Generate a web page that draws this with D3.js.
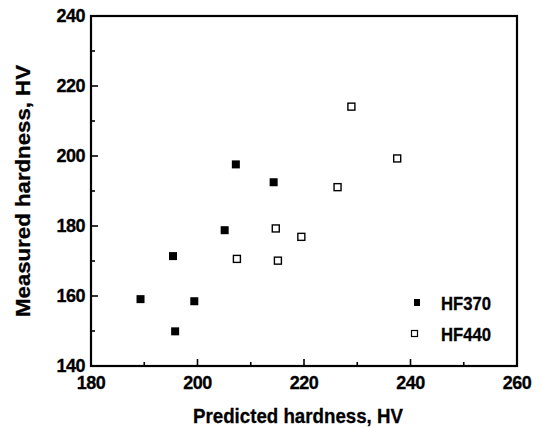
<!DOCTYPE html>
<html><head><meta charset="utf-8">
<script src="https://cdn.jsdelivr.net/npm/d3@7"></script>
<style>body{margin:0;background:#fff}svg{display:block}text{font-family:"Liberation Sans",Arial,sans-serif;font-weight:bold;fill:#000}</style>
</head><body><svg id="c" width="543" height="428"></svg>
<script>
const hf370Predicted = [207.2, 214.3, 205.1, 195.4, 199.4, 195.8, 189.3];
const hf370Measured  = [197.6, 192.5, 178.8, 171.4, 158.5, 149.9, 159.1];
const hf440Predicted = [228.9, 237.5, 226.3, 214.7, 219.5, 207.4, 215.1];
const hf440Measured  = [214.1, 199.3, 191.1, 179.3, 176.9, 170.6, 170.1];
const xTicks = [180, 200, 220, 240, 260];
const yTicks = [140, 160, 180, 200, 220, 240];
const seriesNames = ["HF370", "HF440"];

const svg = d3.select("#c");
const L = 91, R = 517, T = 16, B = 366;
const x = d3.scaleLinear().domain([180, 260]).range([L, R]);
const y = d3.scaleLinear().domain([140, 240]).range([B, T]);

const xMinor = d3.range(190, 260, 20);
const yMinor = d3.range(150, 240, 20);
const g = svg.append("g");
g.selectAll(".xmaj").data(xTicks.slice(1, -1)).enter().append("line")
  .attr("x1", d => x(d)).attr("x2", d => x(d)).attr("y1", B).attr("y2", B - 7)
  .attr("stroke", "#000").attr("stroke-width", 1.6);
g.selectAll(".xmin").data(xMinor).enter().append("line")
  .attr("x1", d => x(d)).attr("x2", d => x(d)).attr("y1", B).attr("y2", B - 4)
  .attr("stroke", "#000").attr("stroke-width", 1.6);
g.selectAll(".ymaj").data(yTicks.slice(1, -1)).enter().append("line")
  .attr("y1", d => y(d)).attr("y2", d => y(d)).attr("x1", L).attr("x2", L + 7)
  .attr("stroke", "#000").attr("stroke-width", 1.6);
g.selectAll(".ymin").data(yMinor).enter().append("line")
  .attr("y1", d => y(d)).attr("y2", d => y(d)).attr("x1", L).attr("x2", L + 4)
  .attr("stroke", "#000").attr("stroke-width", 1.6);

svg.append("rect").attr("x", L).attr("y", T).attr("width", R - L).attr("height", B - T)
  .attr("fill", "none").attr("stroke", "#000").attr("stroke-width", 2.2);

// tick labels
svg.selectAll(".xl").data(xTicks).enter().append("text")
  .attr("x", d => x(d)).attr("y", B + 23)
  .attr("text-anchor", "middle").attr("font-size", 18).attr("letter-spacing", -0.5)
  .attr("stroke", "#000").attr("stroke-width", 0.3)
  .text(d => d);
svg.selectAll(".yl").data(yTicks).enter().append("text")
  .attr("x", L - 6).attr("y", d => y(d) + 6)
  .attr("text-anchor", "end").attr("font-size", 18).attr("letter-spacing", -0.5)
  .attr("stroke", "#000").attr("stroke-width", 0.3)
  .text(d => d);

// axis titles
svg.append("text").attr("x", 298).attr("y", 423)
  .attr("text-anchor", "middle").attr("font-size", 21)
  .attr("textLength", 210).attr("lengthAdjust", "spacingAndGlyphs")
  .attr("stroke", "#000").attr("stroke-width", 0.3)
  .text("Predicted hardness, HV");
svg.append("text").attr("transform", `translate(30,191) rotate(-90)`)
  .attr("text-anchor", "middle").attr("font-size", 21)
  .attr("textLength", 252).attr("lengthAdjust", "spacingAndGlyphs")
  .attr("stroke", "#000").attr("stroke-width", 0.3)
  .text("Measured hardness, HV");

// points
const s370 = hf370Predicted.map((v, i) => [v, hf370Measured[i]]);
const s440 = hf440Predicted.map((v, i) => [v, hf440Measured[i]]);
svg.selectAll(".p370").data(s370).enter().append("rect")
  .attr("x", d => x(d[0]) - 4).attr("y", d => y(d[1]) - 4)
  .attr("width", 8).attr("height", 8).attr("fill", "#000");
svg.selectAll(".p440").data(s440).enter().append("rect")
  .attr("x", d => x(d[0]) - 3.5).attr("y", d => y(d[1]) - 3.5)
  .attr("width", 7).attr("height", 7).attr("fill", "#fff")
  .attr("stroke", "#000").attr("stroke-width", 1.4);

// legend
const lg = svg.append("g");
lg.append("rect").attr("x", 414).attr("y", 299).attr("width", 6).attr("height", 7).attr("fill", "#000");
lg.append("rect").attr("x", 411.5).attr("y", 330.5).attr("width", 6).attr("height", 6)
  .attr("fill", "#fff").attr("stroke", "#000").attr("stroke-width", 1.2);
lg.selectAll("text").data(seriesNames).enter().append("text")
  .attr("x", 441).attr("y", (d, i) => 310 + i * 31)
  .attr("textLength", 50).attr("lengthAdjust", "spacingAndGlyphs")
  .attr("stroke", "#000").attr("stroke-width", 0.3)
  .attr("font-size", 18).text(d => d);
</script></body></html>
